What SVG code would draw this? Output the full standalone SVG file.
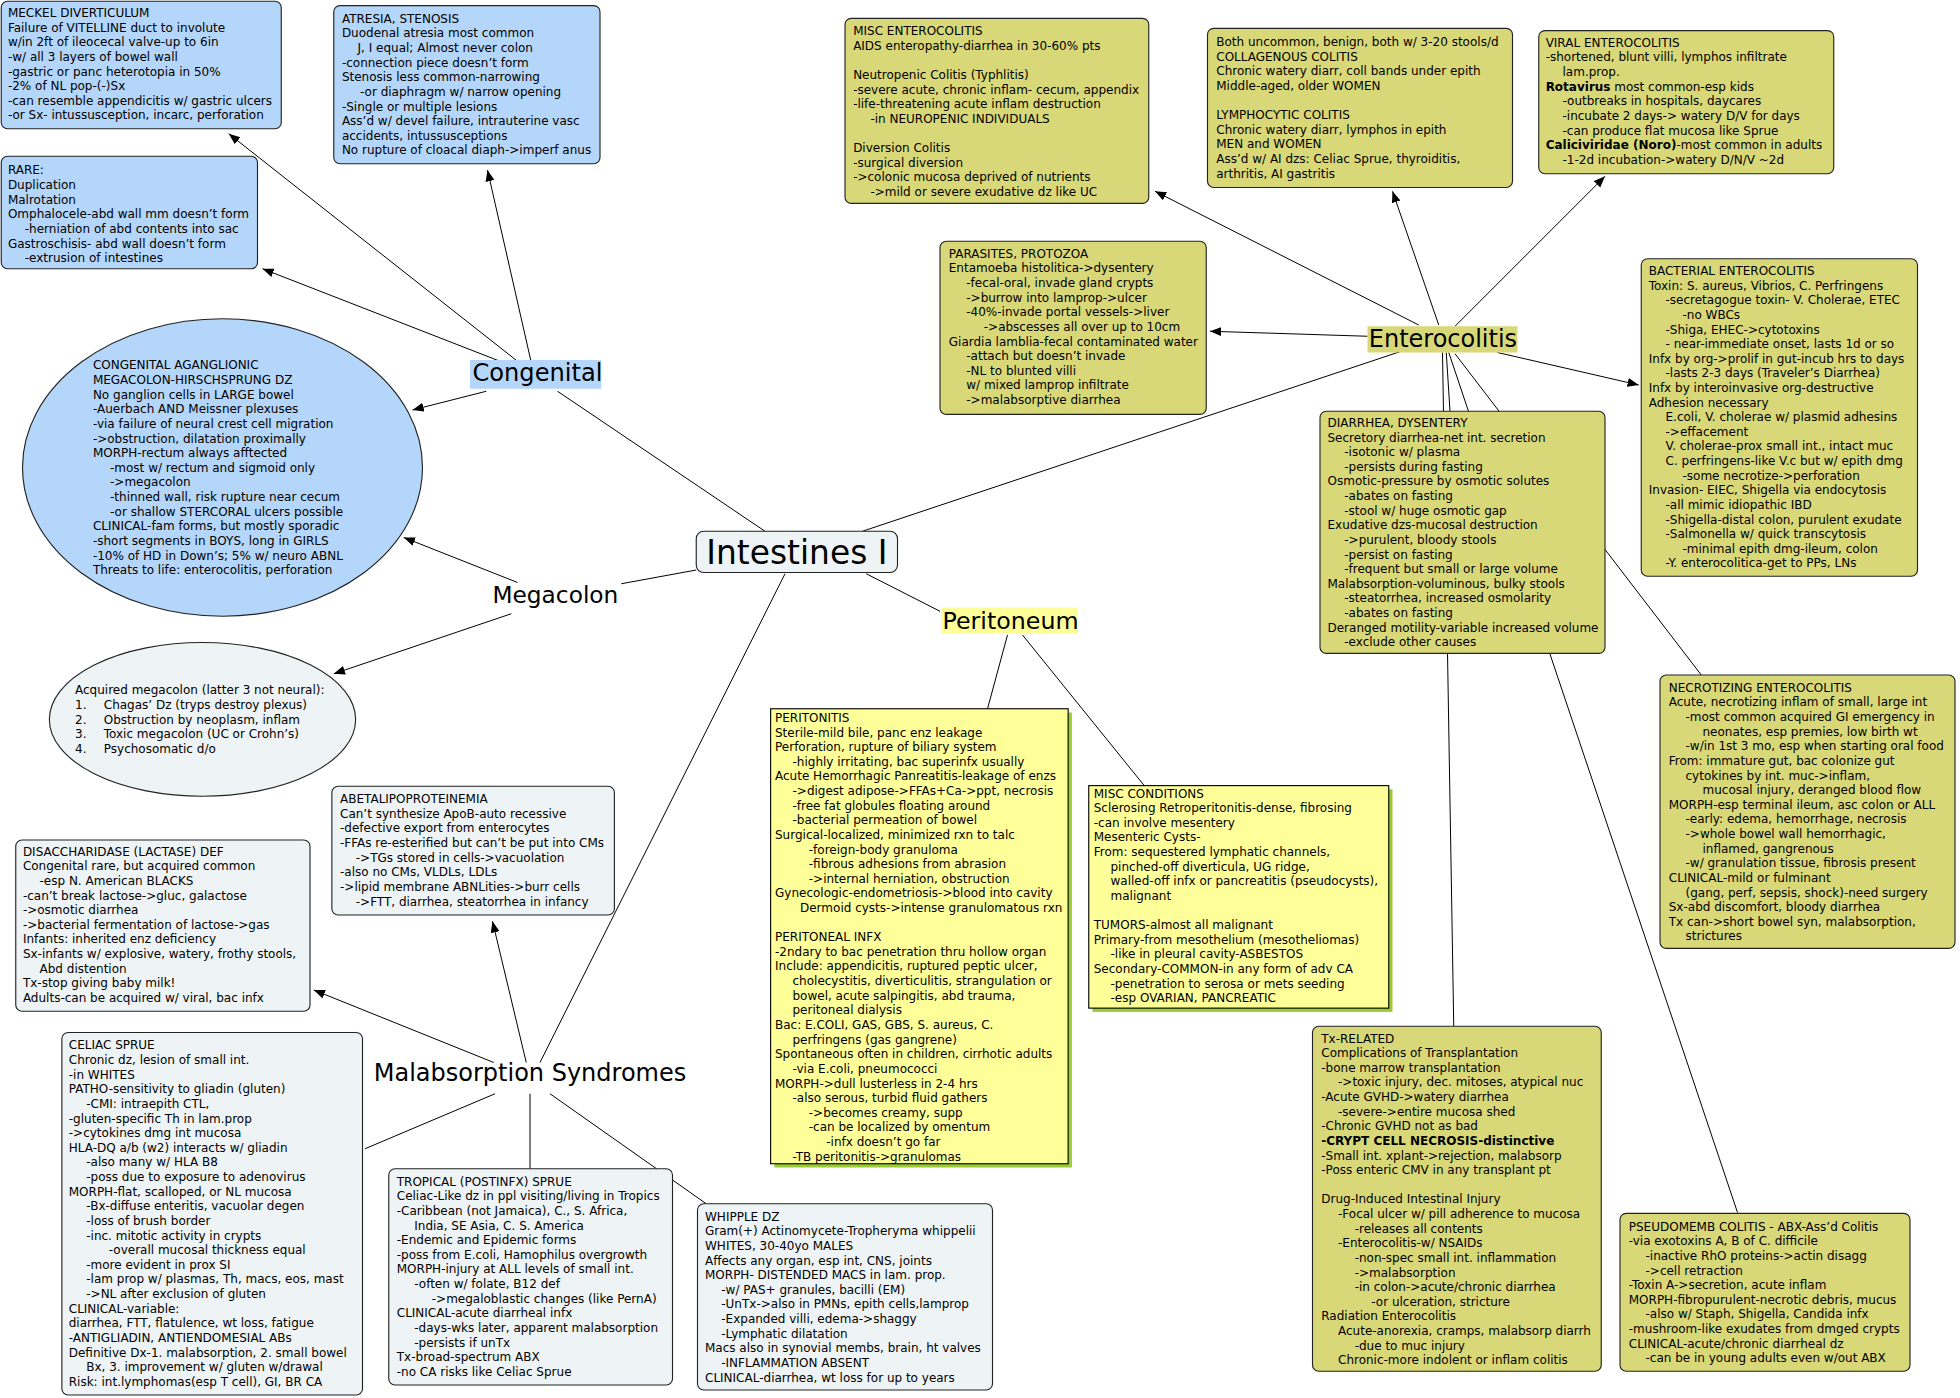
<svg xmlns="http://www.w3.org/2000/svg" width="1960" height="1398" viewBox="0 0 1960 1398">
<style>
.t{font-family:"DejaVu Sans",Verdana,sans-serif;font-size:9.6px;fill:#000}
.lb{font-family:"DejaVu Sans",Verdana,sans-serif;fill:#000}
.blue{fill:#b4d6fa;stroke:#222;stroke-width:0.9}
.grey{fill:#eef4f6;stroke:#222;stroke-width:0.9}
.olive{fill:#d8d878;stroke:#222;stroke-width:0.9}
.yel{fill:#ffff99;stroke:#000;stroke-width:0.9}
.sh{fill:#99cc33}
.c{stroke:#000;stroke-width:0.8;fill:none}
.a{marker-end:url(#arr)}
</style>
<defs>
<marker id="arr" markerWidth="10" markerHeight="8" refX="9" refY="3.6" orient="auto" markerUnits="userSpaceOnUse"><path d="M0,0 L9,3.6 L0,7.2 z" fill="#000"/></marker>
</defs>
<rect width="1960" height="1398" fill="#fff"/>
<g transform="scale(1.25)">
<g id="connectors">
<line class="c a" x1="414" y1="289" x2="183" y2="107"/>
<line class="c a" x1="400" y1="289" x2="210" y2="215"/>
<line class="c a" x1="425" y1="290" x2="390" y2="136"/>
<line class="c a" x1="389" y1="313" x2="330" y2="328"/>
<line class="c" x1="446" y1="313" x2="612" y2="425"/>
<line class="c a" x1="414" y1="466" x2="323" y2="430"/>
<line class="c a" x1="409" y1="491" x2="267" y2="539"/>
<line class="c" x1="497" y1="467" x2="557" y2="456"/>
<line class="c" x1="693" y1="459" x2="752" y2="489"/>
<line class="c" x1="690" y1="425" x2="1124" y2="280"/>
<line class="c" x1="628" y1="459" x2="432" y2="850"/>
<line class="c" x1="806" y1="508" x2="790" y2="567"/>
<line class="c" x1="818" y1="508" x2="915" y2="628"/>
<line class="c a" x1="421" y1="850" x2="394" y2="737"/>
<line class="c a" x1="395" y1="850" x2="251" y2="792"/>
<line class="c" x1="396" y1="875" x2="292" y2="919"/>
<line class="c" x1="424" y1="875" x2="424" y2="935"/>
<line class="c" x1="440" y1="875" x2="565" y2="963"/>
<line class="c a" x1="1135" y1="260" x2="924" y2="153"/>
<line class="c a" x1="1151" y1="260" x2="1114" y2="153"/>
<line class="c a" x1="1164" y1="261" x2="1284" y2="141"/>
<line class="c a" x1="1094" y1="269" x2="968" y2="265"/>
<line class="c a" x1="1198" y1="282" x2="1311" y2="308"/>
<line class="c" x1="1157" y1="282" x2="1160" y2="329"/>
<line class="c" x1="1154" y1="282" x2="1163" y2="821"/>
<line class="c" x1="1159" y1="282" x2="1390" y2="970"/>
<line class="c" x1="1164" y1="283" x2="1361" y2="540"/>
</g>

<g id="intestines">
<rect class="grey" x="557" y="425" width="161" height="33" rx="6"/>
<text class="lb" x="637.5" y="451" font-size="26.3" text-anchor="middle">Intestines I</text>
</g>
<g id="congenital">
<rect x="376" y="288" width="105" height="23" fill="#b4d6fa"/>
<text class="lb" x="378" y="305" font-size="19.3">Congenital</text>
</g>
<g id="megacolon">
<text class="lb" x="394" y="482" font-size="18.6">Megacolon</text>
</g>
<g id="peritoneum">
<rect x="753" y="486" width="109" height="21" fill="#ffff99"/>
<text class="lb" x="754" y="503" font-size="19">Peritoneum</text>
</g>
<g id="malabsorption">
<text class="lb" x="299" y="865" font-size="19.2">Malabsorption Syndromes</text>
</g>
<g id="enterocolitis">
<rect x="1094" y="261" width="120" height="21" fill="#d8d878"/>
<text class="lb" x="1095" y="277.5" font-size="19.2">Enterocolitis</text>
</g>

<g id="meckel">
<rect class="blue" x="1" y="1" width="224" height="102" rx="5"/>
<text class="t" x="6.3" y="13.6"><tspan x="6.3" dy="0">MECKEL DIVERTICULUM</tspan><tspan x="6.3" dy="11.7">Failure of VITELLINE duct to involute</tspan><tspan x="6.3" dy="11.7">w/in 2ft of ileocecal valve-up to 6in</tspan><tspan x="6.3" dy="11.7">-w/ all 3 layers of bowel wall</tspan><tspan x="6.3" dy="11.7">-gastric or panc heterotopia in 50%</tspan><tspan x="6.3" dy="11.7">-2% of NL pop-(-)Sx</tspan><tspan x="6.3" dy="11.7">-can resemble appendicitis w/ gastric ulcers</tspan><tspan x="6.3" dy="11.7">-or Sx- intussusception, incarc, perforation</tspan></text>
</g>
<g id="atresia">
<rect class="blue" x="267" y="4.5" width="213" height="126.5" rx="5"/>
<text class="t" x="273.5" y="18.2"><tspan x="273.5" dy="0">ATRESIA, STENOSIS</tspan><tspan x="273.5" dy="11.7">Duodenal atresia most common</tspan><tspan x="286" dy="11.7">J, I equal; Almost never colon</tspan><tspan x="273.5" dy="11.7">-connection piece doesn’t form</tspan><tspan x="273.5" dy="11.7">Stenosis less common-narrowing</tspan><tspan x="288" dy="11.7">-or diaphragm w/ narrow opening</tspan><tspan x="273.5" dy="11.7">-Single or multiple lesions</tspan><tspan x="273.5" dy="11.7">Ass’d w/ devel failure, intrauterine vasc</tspan><tspan x="273.5" dy="11.7">accidents, intussusceptions</tspan><tspan x="273.5" dy="11.7">No rupture of cloacal diaph-&gt;imperf anus</tspan></text>
</g>
<g id="rare">
<rect class="blue" x="1" y="125" width="205" height="90" rx="5"/>
<text class="t" x="6.3" y="139.5"><tspan x="6.3" dy="0">RARE:</tspan><tspan x="6.3" dy="11.7">Duplication</tspan><tspan x="6.3" dy="11.7">Malrotation</tspan><tspan x="6.3" dy="11.7">Omphalocele-abd wall mm doesn’t form</tspan><tspan x="19.8" dy="11.7">-herniation of abd contents into sac</tspan><tspan x="6.3" dy="11.7">Gastroschisis- abd wall doesn’t form</tspan><tspan x="19.8" dy="11.7">-extrusion of intestines</tspan></text>
</g>
<g id="hirschsprung">
<ellipse class="blue" cx="178" cy="374" rx="160" ry="119"/>
<text class="t" x="74.3" y="295.5"><tspan x="74.3" dy="0">CONGENITAL AGANGLIONIC</tspan><tspan x="74.3" dy="11.7">MEGACOLON-HIRSCHSPRUNG DZ</tspan><tspan x="74.3" dy="11.7">No ganglion cells in LARGE bowel</tspan><tspan x="74.3" dy="11.7">-Auerbach AND Meissner plexuses</tspan><tspan x="74.3" dy="11.7">-via failure of neural crest cell migration</tspan><tspan x="74.3" dy="11.7">-&gt;obstruction, dilatation proximally</tspan><tspan x="74.3" dy="11.7">MORPH-rectum always afftected</tspan><tspan x="88" dy="11.7">-most w/ rectum and sigmoid only</tspan><tspan x="88" dy="11.7">-&gt;megacolon</tspan><tspan x="88" dy="11.7">-thinned wall, risk rupture near cecum</tspan><tspan x="88" dy="11.7">-or shallow STERCORAL ulcers possible</tspan><tspan x="74.3" dy="11.7">CLINICAL-fam forms, but mostly sporadic</tspan><tspan x="74.3" dy="11.7">-short segments in BOYS, long in GIRLS</tspan><tspan x="74.3" dy="11.7">-10% of HD in Down’s; 5% w/ neuro ABNL</tspan><tspan x="74.3" dy="11.7">Threats to life: enterocolitis, perforation</tspan></text>
</g>
<g id="acquired">
<ellipse class="grey" cx="162" cy="575.5" rx="122.5" ry="61.5"/>
<text class="t" x="60" y="555.5"><tspan x="60" dy="0">Acquired megacolon (latter 3 not neural):</tspan><tspan x="60" dy="11.7">1.</tspan><tspan x="83">Chagas’ Dz (tryps destroy plexus)</tspan><tspan x="60" dy="11.7">2.</tspan><tspan x="83">Obstruction by neoplasm, inflam</tspan><tspan x="60" dy="11.7">3.</tspan><tspan x="83">Toxic megacolon (UC or Crohn’s)</tspan><tspan x="60" dy="11.7">4.</tspan><tspan x="83">Psychosomatic d/o</tspan></text>
</g>
<g id="abetalipo">
<rect class="grey" x="265.5" y="629" width="226" height="103" rx="5"/>
<text class="t" x="272" y="642.5"><tspan x="272" dy="0">ABETALIPOPROTEINEMIA</tspan><tspan x="272" dy="11.7">Can’t synthesize ApoB-auto recessive</tspan><tspan x="272" dy="11.7">-defective export from enterocytes</tspan><tspan x="272" dy="11.7">-FFAs re-esterified but can’t be put into CMs</tspan><tspan x="284.6" dy="11.7">-&gt;TGs stored in cells-&gt;vacuolation</tspan><tspan x="272" dy="11.7">-also no CMs, VLDLs, LDLs</tspan><tspan x="272" dy="11.7">-&gt;lipid membrane ABNLities-&gt;burr cells</tspan><tspan x="284.6" dy="11.7">-&gt;FTT, diarrhea, steatorrhea in infancy</tspan></text>
</g>
<g id="disaccharidase">
<rect class="grey" x="12.6" y="672" width="235.4" height="137" rx="5"/>
<text class="t" x="18.3" y="684.5"><tspan x="18.3" dy="0">DISACCHARIDASE (LACTASE) DEF</tspan><tspan x="18.3" dy="11.7">Congenital rare, but acquired common</tspan><tspan x="31.6" dy="11.7">-esp N. American BLACKS</tspan><tspan x="18.3" dy="11.7">-can’t break lactose-&gt;gluc, galactose</tspan><tspan x="18.3" dy="11.7">-&gt;osmotic diarrhea</tspan><tspan x="18.3" dy="11.7">-&gt;bacterial fermentation of lactose-&gt;gas</tspan><tspan x="18.3" dy="11.7">Infants: inherited enz deficiency</tspan><tspan x="18.3" dy="11.7">Sx-infants w/ explosive, watery, frothy stools,</tspan><tspan x="31.6" dy="11.7">Abd distention</tspan><tspan x="18.3" dy="11.7">Tx-stop giving baby milk!</tspan><tspan x="18.3" dy="11.7">Adults-can be acquired w/ viral, bac infx</tspan></text>
</g>
<g id="celiac">
<rect class="grey" x="49.5" y="826" width="240.5" height="290" rx="5"/>
<text class="t" x="55" y="839.5"><tspan x="55" dy="0">CELIAC SPRUE</tspan><tspan x="55" dy="11.7">Chronic dz, lesion of small int.</tspan><tspan x="55" dy="11.7">-in WHITES</tspan><tspan x="55" dy="11.7">PATHO-sensitivity to gliadin (gluten)</tspan><tspan x="69" dy="11.7">-CMI: intraepith CTL,</tspan><tspan x="55" dy="11.7">-gluten-specific Th in lam.prop</tspan><tspan x="55" dy="11.7">-&gt;cytokines dmg int mucosa</tspan><tspan x="55" dy="11.7">HLA-DQ a/b (w2) interacts w/ gliadin</tspan><tspan x="69" dy="11.7">-also many w/ HLA B8</tspan><tspan x="69" dy="11.7">-poss due to exposure to adenovirus</tspan><tspan x="55" dy="11.7">MORPH-flat, scalloped, or NL mucosa</tspan><tspan x="69" dy="11.7">-Bx-diffuse enteritis, vacuolar degen</tspan><tspan x="69" dy="11.7">-loss of brush border</tspan><tspan x="69" dy="11.7">-inc. mitotic activity in crypts</tspan><tspan x="87" dy="11.7">-overall mucosal thickness equal</tspan><tspan x="69" dy="11.7">-more evident in prox SI</tspan><tspan x="69" dy="11.7">-lam prop w/ plasmas, Th, macs, eos, mast</tspan><tspan x="69" dy="11.7">-&gt;NL after exclusion of gluten</tspan><tspan x="55" dy="11.7">CLINICAL-variable:</tspan><tspan x="55" dy="11.7">diarrhea, FTT, flatulence, wt loss, fatigue</tspan><tspan x="55" dy="11.7">-ANTIGLIADIN, ANTIENDOMESIAL ABs</tspan><tspan x="55" dy="11.7">Definitive Dx-1. malabsorption, 2. small bowel</tspan><tspan x="69" dy="11.7">Bx, 3. improvement w/ gluten w/drawal</tspan><tspan x="55" dy="11.7">Risk: int.lymphomas(esp T cell), GI, BR CA</tspan></text>
</g>
<g id="tropical">
<rect class="grey" x="311" y="935" width="227" height="173" rx="5"/>
<text class="t" x="317.4" y="948.5"><tspan x="317.4" dy="0">TROPICAL (POSTINFX) SPRUE</tspan><tspan x="317.4" dy="11.7">Celiac-Like dz in ppl visiting/living in Tropics</tspan><tspan x="317.4" dy="11.7">-Caribbean (not Jamaica), C., S. Africa,</tspan><tspan x="331.4" dy="11.7">India, SE Asia, C. S. America</tspan><tspan x="317.4" dy="11.7">-Endemic and Epidemic forms</tspan><tspan x="317.4" dy="11.7">-poss from E.coli, Hamophilus overgrowth</tspan><tspan x="317.4" dy="11.7">MORPH-injury at ALL levels of small int.</tspan><tspan x="331.4" dy="11.7">-often w/ folate, B12 def</tspan><tspan x="345.4" dy="11.7">-&gt;megaloblastic changes (like PernA)</tspan><tspan x="317.4" dy="11.7">CLINICAL-acute diarrheal infx</tspan><tspan x="331.4" dy="11.7">-days-wks later, apparent malabsorption</tspan><tspan x="331.4" dy="11.7">-persists if unTx</tspan><tspan x="317.4" dy="11.7">Tx-broad-spectrum ABX</tspan><tspan x="317.4" dy="11.7">-no CA risks like Celiac Sprue</tspan></text>
</g>
<g id="whipple">
<rect class="grey" x="558" y="963" width="236" height="149" rx="5"/>
<text class="t" x="564" y="976.5"><tspan x="564" dy="0">WHIPPLE DZ</tspan><tspan x="564" dy="11.7">Gram(+) Actinomycete-Tropheryma whippelii</tspan><tspan x="564" dy="11.7">WHITES, 30-40yo MALES</tspan><tspan x="564" dy="11.7">Affects any organ, esp int, CNS, joints</tspan><tspan x="564" dy="11.7">MORPH- DISTENDED MACS in lam. prop.</tspan><tspan x="577" dy="11.7">-w/ PAS+ granules, bacilli (EM)</tspan><tspan x="577" dy="11.7">-UnTx-&gt;also in PMNs, epith cells,lamprop</tspan><tspan x="577" dy="11.7">-Expanded villi, edema-&gt;shaggy</tspan><tspan x="577" dy="11.7">-Lymphatic dilatation</tspan><tspan x="564" dy="11.7">Macs also in synovial membs, brain, ht valves</tspan><tspan x="577" dy="11.7">-INFLAMMATION ABSENT</tspan><tspan x="564" dy="11.7">CLINICAL-diarrhea, wt loss for up to years</tspan></text>
</g>
<g id="peritonitis">
<rect class="sh" x="619.5" y="570" width="238" height="364"/>
<rect class="yel" x="616.5" y="567" width="238" height="364"/>
<text class="t" x="620" y="577.5"><tspan x="620" dy="0">PERITONITIS</tspan><tspan x="620" dy="11.7">Sterile-mild bile, panc enz leakage</tspan><tspan x="620" dy="11.7">Perforation, rupture of biliary system</tspan><tspan x="634" dy="11.7">-highly irritating, bac superinfx usually</tspan><tspan x="620" dy="11.7">Acute Hemorrhagic Panreatitis-leakage of enzs</tspan><tspan x="634" dy="11.7">-&gt;digest adipose-&gt;FFAs+Ca-&gt;ppt, necrosis</tspan><tspan x="634" dy="11.7">-free fat globules floating around</tspan><tspan x="634" dy="11.7">-bacterial permeation of bowel</tspan><tspan x="620" dy="11.7">Surgical-localized, minimized rxn to talc</tspan><tspan x="647" dy="11.7">-foreign-body granuloma</tspan><tspan x="647" dy="11.7">-fibrous adhesions from abrasion</tspan><tspan x="647" dy="11.7">-&gt;internal herniation, obstruction</tspan><tspan x="620" dy="11.7">Gynecologic-endometriosis-&gt;blood into cavity</tspan><tspan x="640" dy="11.7">Dermoid cysts-&gt;intense granulomatous rxn</tspan><tspan x="620" dy="23.4">PERITONEAL INFX</tspan><tspan x="620" dy="11.7">-2ndary to bac penetration thru hollow organ</tspan><tspan x="620" dy="11.7">Include: appendicitis, ruptured peptic ulcer,</tspan><tspan x="634" dy="11.7">cholecystitis, diverticulitis, strangulation or</tspan><tspan x="634" dy="11.7">bowel, acute salpingitis, abd trauma,</tspan><tspan x="634" dy="11.7">peritoneal dialysis</tspan><tspan x="620" dy="11.7">Bac: E.COLI, GAS, GBS, S. aureus, C.</tspan><tspan x="634" dy="11.7">perfringens (gas gangrene)</tspan><tspan x="620" dy="11.7">Spontaneous often in children, cirrhotic adults</tspan><tspan x="634" dy="11.7">-via E.coli, pneumococci</tspan><tspan x="620" dy="11.7">MORPH-&gt;dull lusterless in 2-4 hrs</tspan><tspan x="634" dy="11.7">-also serous, turbid fluid gathers</tspan><tspan x="647" dy="11.7">-&gt;becomes creamy, supp</tspan><tspan x="647" dy="11.7">-can be localized by omentum</tspan><tspan x="661" dy="11.7">-infx doesn’t go far</tspan><tspan x="634" dy="11.7">-TB peritonitis-&gt;granulomas</tspan></text>
</g>
<g id="misc-conditions">
<rect class="sh" x="874" y="631.5" width="240" height="178"/>
<rect class="yel" x="871" y="628.5" width="240" height="178"/>
<text class="t" x="875" y="638"><tspan x="875" dy="0">MISC CONDITIONS</tspan><tspan x="875" dy="11.7">Sclerosing Retroperitonitis-dense, fibrosing</tspan><tspan x="875" dy="11.7">-can involve mesentery</tspan><tspan x="875" dy="11.7">Mesenteric Cysts-</tspan><tspan x="875" dy="11.7">From: sequestered lymphatic channels,</tspan><tspan x="888.4" dy="11.7">pinched-off diverticula, UG ridge,</tspan><tspan x="888.4" dy="11.7">walled-off infx or pancreatitis (pseudocysts),</tspan><tspan x="888.4" dy="11.7">malignant</tspan><tspan x="875" dy="23.4">TUMORS-almost all malignant</tspan><tspan x="875" dy="11.7">Primary-from mesothelium (mesotheliomas)</tspan><tspan x="888.4" dy="11.7">-like in pleural cavity-ASBESTOS</tspan><tspan x="875" dy="11.7">Secondary-COMMON-in any form of adv CA</tspan><tspan x="888.4" dy="11.7">-penetration to serosa or mets seeding</tspan><tspan x="888.4" dy="11.7">-esp OVARIAN, PANCREATIC</tspan></text>
</g>
<g id="misc-enterocolitis">
<rect class="olive" x="676" y="14.7" width="243" height="148" rx="5"/>
<text class="t" x="682.5" y="28"><tspan x="682.5" dy="0">MISC ENTEROCOLITIS</tspan><tspan x="682.5" dy="11.7">AIDS enteropathy-diarrhea in 30-60% pts</tspan><tspan x="682.5" dy="23.4">Neutropenic Colitis (Typhlitis)</tspan><tspan x="682.5" dy="11.7">-severe acute, chronic inflam- cecum, appendix</tspan><tspan x="682.5" dy="11.7">-life-threatening acute inflam destruction</tspan><tspan x="696.3" dy="11.7">-in NEUROPENIC INDIVIDUALS</tspan><tspan x="682.5" dy="23.4">Diversion Colitis</tspan><tspan x="682.5" dy="11.7">-surgical diversion</tspan><tspan x="682.5" dy="11.7">-&gt;colonic mucosa deprived of nutrients</tspan><tspan x="696.3" dy="11.7">-&gt;mild or severe exudative dz like UC</tspan></text>
</g>
<g id="microscopic-colitis">
<rect class="olive" x="966" y="22.7" width="244" height="127.3" rx="5"/>
<text class="t" x="973" y="36.8"><tspan x="973" dy="0">Both uncommon, benign, both w/ 3-20 stools/d</tspan><tspan x="973" dy="11.7">COLLAGENOUS COLITIS</tspan><tspan x="973" dy="11.7">Chronic watery diarr, coll bands under epith</tspan><tspan x="973" dy="11.7">Middle-aged, older WOMEN</tspan><tspan x="973" dy="23.4">LYMPHOCYTIC COLITIS</tspan><tspan x="973" dy="11.7">Chronic watery diarr, lymphos in epith</tspan><tspan x="973" dy="11.7">MEN and WOMEN</tspan><tspan x="973" dy="11.7">Ass’d w/ AI dzs: Celiac Sprue, thyroiditis,</tspan><tspan x="973" dy="11.7">arthritis, AI gastritis</tspan></text>
</g>
<g id="viral">
<rect class="olive" x="1231" y="24.5" width="236" height="114.5" rx="5"/>
<text class="t" x="1236.5" y="37.4"><tspan x="1236.5" dy="0">VIRAL ENTEROCOLITIS</tspan><tspan x="1236.5" dy="11.7">-shortened, blunt villi, lymphos infiltrate</tspan><tspan x="1250" dy="11.7">lam.prop.</tspan><tspan x="1236.5" dy="11.7"><tspan font-weight="bold">Rotavirus</tspan> most common-esp kids</tspan><tspan x="1250" dy="11.7">-outbreaks in hospitals, daycares</tspan><tspan x="1250" dy="11.7">-incubate 2 days-&gt; watery D/V for days</tspan><tspan x="1250" dy="11.7">-can produce flat mucosa like Sprue</tspan><tspan x="1236.5" dy="11.7"><tspan font-weight="bold">Caliciviridae (Noro)</tspan>-most common in adults</tspan><tspan x="1250" dy="11.7">-1-2d incubation-&gt;watery D/N/V ~2d</tspan></text>
</g>
<g id="parasites">
<rect class="olive" x="752" y="193" width="213" height="138.5" rx="5"/>
<text class="t" x="759" y="206.2"><tspan x="759" dy="0">PARASITES, PROTOZOA</tspan><tspan x="759" dy="11.7">Entamoeba histolitica-&gt;dysentery</tspan><tspan x="773" dy="11.7">-fecal-oral, invade gland crypts</tspan><tspan x="773" dy="11.7">-&gt;burrow into lamprop-&gt;ulcer</tspan><tspan x="773" dy="11.7">-40%-invade portal vessels-&gt;liver</tspan><tspan x="787" dy="11.7">-&gt;abscesses all over up to 10cm</tspan><tspan x="759" dy="11.7">Giardia lamblia-fecal contaminated water</tspan><tspan x="773" dy="11.7">-attach but doesn’t invade</tspan><tspan x="773" dy="11.7">-NL to blunted villi</tspan><tspan x="773" dy="11.7">w/ mixed lamprop infiltrate</tspan><tspan x="773" dy="11.7">-&gt;malabsorptive diarrhea</tspan></text>
</g>
<g id="bacterial">
<rect class="olive" x="1313" y="207" width="221" height="254" rx="5"/>
<text class="t" x="1319" y="220"><tspan x="1319" dy="0">BACTERIAL ENTEROCOLITIS</tspan><tspan x="1319" dy="11.7">Toxin: S. aureus, Vibrios, C. Perfringens</tspan><tspan x="1332.4" dy="11.7">-secretagogue toxin- V. Cholerae, ETEC</tspan><tspan x="1346" dy="11.7">-no WBCs</tspan><tspan x="1332.4" dy="11.7">-Shiga, EHEC-&gt;cytotoxins</tspan><tspan x="1332.4" dy="11.7">- near-immediate onset, lasts 1d or so</tspan><tspan x="1319" dy="11.7">Infx by org-&gt;prolif in gut-incub hrs to days</tspan><tspan x="1332.4" dy="11.7">-lasts 2-3 days (Traveler’s Diarrhea)</tspan><tspan x="1319" dy="11.7">Infx by interoinvasive org-destructive</tspan><tspan x="1319" dy="11.7">Adhesion necessary</tspan><tspan x="1332.4" dy="11.7">E.coli, V. cholerae w/ plasmid adhesins</tspan><tspan x="1332.4" dy="11.7">-&gt;effacement</tspan><tspan x="1332.4" dy="11.7">V. cholerae-prox small int., intact muc</tspan><tspan x="1332.4" dy="11.7">C. perfringens-like V.c but w/ epith dmg</tspan><tspan x="1346" dy="11.7">-some necrotize-&gt;perforation</tspan><tspan x="1319" dy="11.7">Invasion- EIEC, Shigella via endocytosis</tspan><tspan x="1332.4" dy="11.7">-all mimic idiopathic IBD</tspan><tspan x="1332.4" dy="11.7">-Shigella-distal colon, purulent exudate</tspan><tspan x="1332.4" dy="11.7">-Salmonella w/ quick transcytosis</tspan><tspan x="1346" dy="11.7">-minimal epith dmg-ileum, colon</tspan><tspan x="1332.4" dy="11.7">-Y. enterocolitica-get to PPs, LNs</tspan></text>
</g>
<g id="diarrhea">
<rect class="olive" x="1056" y="329" width="228" height="193.7" rx="5"/>
<text class="t" x="1062" y="341.5"><tspan x="1062" dy="0">DIARRHEA, DYSENTERY</tspan><tspan x="1062" dy="11.7">Secretory diarrhea-net int. secretion</tspan><tspan x="1075.4" dy="11.7">-isotonic w/ plasma</tspan><tspan x="1075.4" dy="11.7">-persists during fasting</tspan><tspan x="1062" dy="11.7">Osmotic-pressure by osmotic solutes</tspan><tspan x="1075.4" dy="11.7">-abates on fasting</tspan><tspan x="1075.4" dy="11.7">-stool w/ huge osmotic gap</tspan><tspan x="1062" dy="11.7">Exudative dzs-mucosal destruction</tspan><tspan x="1075.4" dy="11.7">-&gt;purulent, bloody stools</tspan><tspan x="1075.4" dy="11.7">-persist on fasting</tspan><tspan x="1075.4" dy="11.7">-frequent but small or large volume</tspan><tspan x="1062" dy="11.7">Malabsorption-voluminous, bulky stools</tspan><tspan x="1075.4" dy="11.7">-steatorrhea, increased osmolarity</tspan><tspan x="1075.4" dy="11.7">-abates on fasting</tspan><tspan x="1062" dy="11.7">Deranged motility-variable increased volume</tspan><tspan x="1075.4" dy="11.7">-exclude other causes</tspan></text>
</g>
<g id="necrotizing">
<rect class="olive" x="1328" y="540" width="236" height="218.7" rx="5"/>
<text class="t" x="1335" y="553.4"><tspan x="1335" dy="0">NECROTIZING ENTEROCOLITIS</tspan><tspan x="1335" dy="11.7">Acute, necrotizing inflam of small, large int</tspan><tspan x="1348.4" dy="11.7">-most common acquired GI emergency in</tspan><tspan x="1362" dy="11.7">neonates, esp premies, low birth wt</tspan><tspan x="1348.4" dy="11.7">-w/in 1st 3 mo, esp when starting oral food</tspan><tspan x="1335" dy="11.7">From: immature gut, bac colonize gut</tspan><tspan x="1348.4" dy="11.7">cytokines by int. muc-&gt;inflam,</tspan><tspan x="1362" dy="11.7">mucosal injury, deranged blood flow</tspan><tspan x="1335" dy="11.7">MORPH-esp terminal ileum, asc colon or ALL</tspan><tspan x="1348.4" dy="11.7">-early: edema, hemorrhage, necrosis</tspan><tspan x="1348.4" dy="11.7">-&gt;whole bowel wall hemorrhagic,</tspan><tspan x="1362" dy="11.7">inflamed, gangrenous</tspan><tspan x="1348.4" dy="11.7">-w/ granulation tissue, fibrosis present</tspan><tspan x="1335" dy="11.7">CLINICAL-mild or fulminant</tspan><tspan x="1348.4" dy="11.7">(gang, perf, sepsis, shock)-need surgery</tspan><tspan x="1335" dy="11.7">Sx-abd discomfort, bloody diarrhea</tspan><tspan x="1335" dy="11.7">Tx can-&gt;short bowel syn, malabsorption,</tspan><tspan x="1348.4" dy="11.7">strictures</tspan></text>
</g>
<g id="tx-related">
<rect class="olive" x="1050" y="821" width="231" height="276" rx="5"/>
<text class="t" x="1057" y="834"><tspan x="1057" dy="0">Tx-RELATED</tspan><tspan x="1057" dy="11.7">Complications of Transplantation</tspan><tspan x="1057" dy="11.7">-bone marrow transplantation</tspan><tspan x="1070.4" dy="11.7">-&gt;toxic injury, dec. mitoses, atypical nuc</tspan><tspan x="1057" dy="11.7">-Acute GVHD-&gt;watery diarrhea</tspan><tspan x="1070.4" dy="11.7">-severe-&gt;entire mucosa shed</tspan><tspan x="1057" dy="11.7">-Chronic GVHD not as bad</tspan><tspan x="1057" dy="11.7" font-weight="bold">-CRYPT CELL NECROSIS-distinctive</tspan><tspan x="1057" dy="11.7">-Small int. xplant-&gt;rejection, malabsorp</tspan><tspan x="1057" dy="11.7">-Poss enteric CMV in any transplant pt</tspan><tspan x="1057" dy="23.4">Drug-Induced Intestinal Injury</tspan><tspan x="1070.4" dy="11.7">-Focal ulcer w/ pill adherence to mucosa</tspan><tspan x="1083.7" dy="11.7">-releases all contents</tspan><tspan x="1070.4" dy="11.7">-Enterocolitis-w/ NSAIDs</tspan><tspan x="1083.7" dy="11.7">-non-spec small int. inflammation</tspan><tspan x="1083.7" dy="11.7">-&gt;malabsorption</tspan><tspan x="1083.7" dy="11.7">-in colon-&gt;acute/chronic diarrhea</tspan><tspan x="1097" dy="11.7">-or ulceration, stricture</tspan><tspan x="1057" dy="11.7">Radiation Enterocolitis</tspan><tspan x="1070.4" dy="11.7">Acute-anorexia, cramps, malabsorp diarrh</tspan><tspan x="1083.7" dy="11.7">-due to muc injury</tspan><tspan x="1070.4" dy="11.7">Chronic-more indolent or inflam colitis</tspan></text>
</g>
<g id="pseudomemb">
<rect class="olive" x="1296" y="970.7" width="232" height="126.3" rx="5"/>
<text class="t" x="1303" y="984.5"><tspan x="1303" dy="0">PSEUDOMEMB COLITIS - ABX-Ass’d Colitis</tspan><tspan x="1303" dy="11.7">-via exotoxins A, B of C. difficile</tspan><tspan x="1316.4" dy="11.7">-inactive RhO proteins-&gt;actin disagg</tspan><tspan x="1316.4" dy="11.7">-&gt;cell retraction</tspan><tspan x="1303" dy="11.7">-Toxin A-&gt;secretion, acute inflam</tspan><tspan x="1303" dy="11.7">MORPH-fibropurulent-necrotic debris, mucus</tspan><tspan x="1316.4" dy="11.7">-also w/ Staph, Shigella, Candida infx</tspan><tspan x="1303" dy="11.7">-mushroom-like exudates from dmged crypts</tspan><tspan x="1303" dy="11.7">CLINICAL-acute/chronic diarrheal dz</tspan><tspan x="1316.4" dy="11.7">-can be in young adults even w/out ABX</tspan></text>
</g>
</g>
</svg>
